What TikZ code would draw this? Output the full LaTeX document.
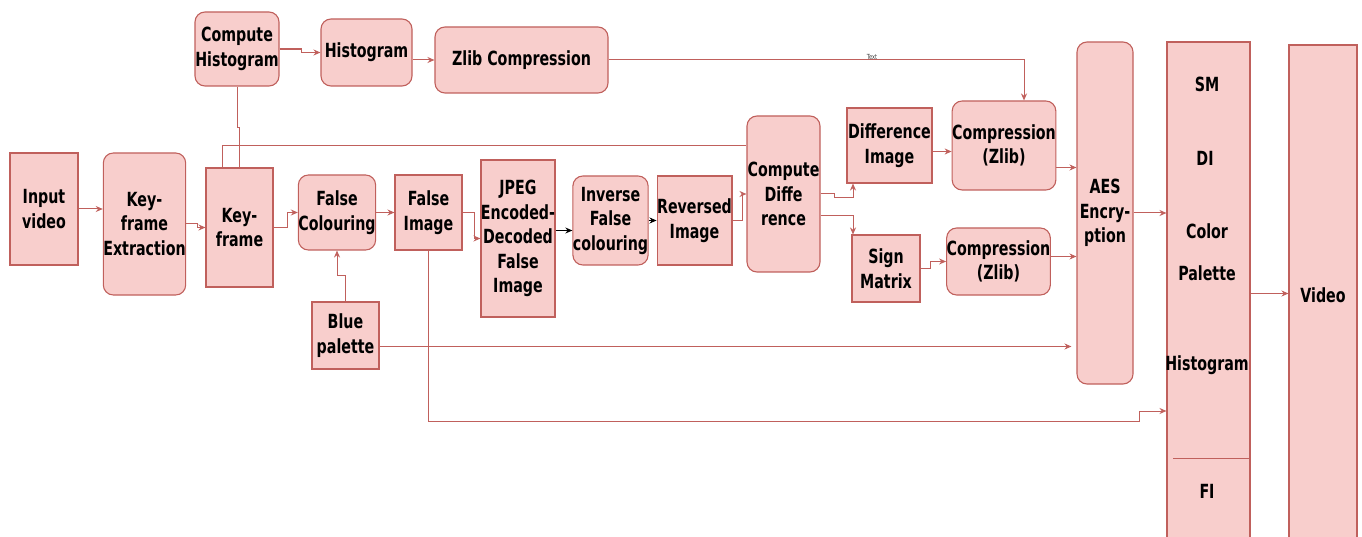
\documentclass[tikz,border=0pt]{standalone}
\usepackage{fontspec}
\setmainfont{DejaVu Sans}[FakeStretch=0.73]
\usepackage{tikz}
\usetikzlibrary{arrows.meta}
\definecolor{boxfill}{HTML}{F8CECC}
\definecolor{boxline}{HTML}{C0605C}
\tikzset{sqbox/.style={draw=boxline, fill=boxfill, line width=1.1pt, inner sep=0pt,
   align=center, font=\fontsize{19.5}{24.5}\selectfont\bfseries},
 rndbox/.style={sqbox, rounded corners=10pt},
 boxtext/.style={inner sep=0pt, font=\fontsize{19.5}{24.5}\selectfont\bfseries},
 link/.style={draw=boxline, line width=1pt, -{Stealth[length=7pt,width=6pt]}},
 plain/.style={draw=boxline, line width=1pt},
 blacklink/.style={draw=black, line width=1pt, -{Stealth[length=7pt,width=6pt]}},
 tinytext/.style={font=\fontsize{7}{7}\selectfont, text=darkgray, inner sep=0pt},
 }

\begin{document}
\begin{tikzpicture}[x=1pt, y=-1pt]
        \clip (0,0) rectangle (1362,537);
        \node[sqbox, minimum width=68, minimum height=112] (input) at (44,209) {Input\\video};
        \node[rndbox, minimum width=79, minimum height=142] (keyex) at (144.5,224) {Key-\\frame\\Extraction};
        \node[sqbox, minimum width=67, minimum height=119] (keyfr) at (239.5,227.5) {Key-\\frame};
        \node[rndbox, minimum width=84, minimum height=74] (comphist) at (237,49) {Compute\\Histogram};
        \node[rndbox, minimum width=91, minimum height=67] (hist) at (366.5,52.5) {Histogram};
        \node[rndbox, minimum width=173, minimum height=66] (zlib) at (521.5,60) {Zlib Compression};
        \node[rndbox, minimum width=72, minimum height=75] (falsecol) at (337,212.5) {False\\Colouring};
        \node[sqbox, minimum width=67, minimum height=75] (falseimg) at (428.5,212.5) {False\\Image};
        \node[sqbox, minimum width=72, minimum height=157] (jpeg) at (518,238.5) {JPEG\\Encoded-\\Decoded\\False\\Image};
        \node[rndbox, minimum width=67, minimum height=89] (invfc) at (610.5,220.5) {Inverse\\False\\colouring};
        \node[sqbox, minimum width=73, minimum height=89] (rev) at (694.5,220.5) {Reversed\\Image};
        \node[rndbox, minimum width=73, minimum height=156] (compdiff) at (783.5,194) {Compute\\Diffe\\rence};
        \node[sqbox, minimum width=85, minimum height=75] (diffimg) at (889.5,145.5) {Difference\\Image};
        \node[rndbox, minimum width=102, minimum height=89] (compa) at (1004,145.5) {Compression\\(Zlib)};
        \node[sqbox, minimum width=68, minimum height=67] (sign) at (886,268.5) {Sign\\Matrix};
        \node[rndbox, minimum width=103, minimum height=67] (compb) at (998.5,261.5) {Compression\\(Zlib)};
        \node[sqbox, minimum width=67, minimum height=67] (blue) at (345.5,335.5) {Blue\\palette};
        \node[rndbox, minimum width=56, minimum height=342] (aes) at (1105,213) {AES\\Encry-\\ption};
        \node[sqbox, minimum width=83, minimum height=503] (out) at (1208.5,293.5) {};
        \node[sqbox, minimum width=68, minimum height=500] (video) at (1323,295) {Video};
        \node[boxtext] (sm) at (1207,84) {SM};
        \node[boxtext] (di) at (1205,158) {DI};
        \node[boxtext] (color) at (1207,231) {Color};
        \node[boxtext] (palette) at (1207,273) {Palette};
        \node[boxtext] (histo) at (1207,365) {Histogram};
        \node[boxtext] (fi) at (1207,491) {FI};
        \draw[plain] (1173,458) -- ([yshift=-164.5]out.east);
        \draw[link] (input.east) -- (input.east -| keyex.west);
        \draw[link] (keyex.east) -- ++(11,0) |- (keyfr.west);
        \draw[plain] (keyfr.north) -- ++(0,-40) -| (comphist.south);
        \draw[plain] ([xshift=-17]keyfr.north) |- ([yshift=48]compdiff.west);
        \draw[link, line width=1.8pt] (comphist.east) -- ++(22,0) |- (hist.west);
        \draw[link] (zlib.west -| hist.east) -- (zlib.west);
        \draw[link] (zlib.east) -| node[tinytext, pos=0.317, yshift=3pt] (txt) {Text} ([xshift=20]compa.north);
        \draw[link] (keyfr.east) -- ++(14,0) |- (falsecol.west);
        \draw[link] (falsecol.east) -- (falseimg.west);
        \draw[link] (blue.north) -- ++(0,-26) -| (falsecol.south);
        \draw[link] (falseimg.east) -- ++(12,0) |- (jpeg.west);
        \draw[blacklink] ([yshift=8]jpeg.east) -- ([yshift=8]jpeg.east -| invfc.west);
        \draw[blacklink] (invfc.east) -- (rev.west);
        \draw[link] (rev.east) -- ++(10,0) |- (compdiff.west);
        \draw[link] (compdiff.east) -- ++(14,0) -- ++(0,4) -| ([xshift=-36.5]diffimg.south);
        \draw[link] ([yshift=-22]compdiff.east) -| ([xshift=-33]sign.north);
        \draw[link] (sign.east) -- ++(10,0) |- (compb.west);
        \draw[link] ([yshift=-6]diffimg.east) -- ([yshift=-6]diffimg.east -| compa.west);
        \draw[link] ([yshift=-22]compa.east) -- ([yshift=-22]compa.east -| aes.west);
        \draw[link] ([yshift=5]compb.east) -- ([yshift=5]compb.east -| aes.west);
        \draw[link, shorten >=5pt] ([yshift=-11]blue.east) -- ([yshift=-11]blue.east -| aes.west);
        \draw[link] (falseimg.south) |- ([xshift=-27, yshift=-127.5]out.west) |- ([yshift=-117.5]out.west);
        \draw[link] (aes.east) -- (aes.east -| out.west);
        \draw[link] (out.east) -- (out.east -| video.west);
\end{tikzpicture}
\end{document}
